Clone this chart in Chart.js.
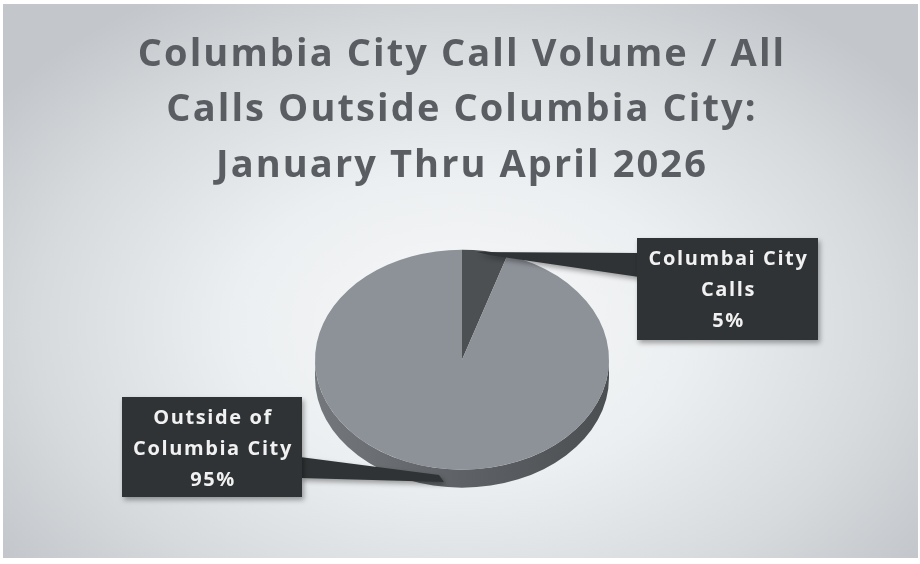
<!DOCTYPE html>
<html>
<head>
<meta charset="utf-8">
<title>Columbia City Call Volume</title>
<script src="https://cdn.jsdelivr.net/npm/chart.js@4/dist/chart.umd.min.js"></script>
<style>
  html, body { margin: 0; padding: 0; background: #ffffff; }
  #frame {
    position: absolute; left: 3px; top: 4px; width: 915px; height: 554px;
    background: radial-gradient(ellipse 62% 70% at 50% 58%, #f6f7f8 0%, #eceff1 40%, #d6dadd 75%, #c3c7cb 100%);
  }
  #wrap { position: absolute; left: 0; top: 0; width: 920px; height: 564px; }
</style>
</head>
<body>
<div id="frame"></div>
<div id="wrap"><canvas id="chart" width="920" height="564"></canvas></div>
<script>
// Call share, Jan - Apr 2026
const labels = ['Columbai City Calls', 'Outside of Columbia City'];
const labelLines = [['Columbai City', 'Calls'], ['Outside of', 'Columbia City']];
const callShare = [5, 95];
const titleLines = ['Columbia City Call Volume / All', 'Calls Outside Columbia City:', 'January Thru April 2026'];

const sliceColors = ['#4c5053', '#8d9198'];
const TILT = 0.748;   // vertical squash of the pie
const DEPTH = 18;     // thickness of the pie side
const BOX_FILL = '#2f3335';

// callout boxes: position on page + where the leader attaches
const callouts = [
  { x: 637, y: 238, w: 181, h: 102, side: 'left' },
  { x: 122, y: 397, w: 180, h: 100, side: 'right' }
];

function norm(a) {
  const t = Math.PI * 2;
  return ((a % t) + t) % t;
}

// wider tracking for the title text
const titleSpacing = {
  id: 'titleSpacing',
  beforeDraw(chart) {
    chart.ctx.letterSpacing = '2.1px';
  }
};

// Draws the front wall below the top face for every slice that faces the viewer
const pie3d = {
  id: 'pie3d',
  beforeDatasetsDraw(chart) {
    const ctx = chart.ctx;
    ctx.letterSpacing = '0px';
    const arcs = chart.getDatasetMeta(0).data;
    if (!arcs.length) return;
    const cx = arcs[0].x, cy = arcs[0].y;
    const rx = arcs[0].outerRadius, ry = rx * TILT;

    arcs.forEach((arc, i) => {
      let s = norm(arc.startAngle);
      let e = s + (arc.endAngle - arc.startAngle);
      // visible front half is 0..PI (and 2PI..3PI after wrap)
      [[0, Math.PI], [Math.PI * 2, Math.PI * 3]].forEach(([a, b]) => {
        const from = Math.max(s, a), to = Math.min(e, b);
        if (to <= from) return;
        const g = ctx.createLinearGradient(cx - rx, 0, cx + rx, 0);
        g.addColorStop(0, '#74777b');
        g.addColorStop(0.45, '#606367');
        g.addColorStop(1, '#4c4f52');
        ctx.save();
        ctx.beginPath();
        ctx.ellipse(cx, cy, rx, ry, 0, from, to);
        ctx.ellipse(cx, cy + DEPTH, rx, ry, 0, to, from, true);
        ctx.closePath();
        ctx.fillStyle = i === 0 ? '#3c3f41' : g;
        ctx.fill();
        ctx.restore();
      });
    });

    ctx.save();
    ctx.translate(cx, cy);
    ctx.scale(1, TILT);
    ctx.translate(-cx, -cy);
  },
  afterDatasetsDraw(chart) {
    chart.ctx.restore();
  }
};

// Dark label boxes with a tapered leader to each slice
const calloutBoxes = {
  id: 'calloutBoxes',
  afterDraw(chart) {
    const ctx = chart.ctx;
    const arcs = chart.getDatasetMeta(0).data;
    const total = callShare.reduce((a, b) => a + b, 0);
    arcs.forEach((arc, i) => {
      const c = callouts[i];
      const mid = (arc.startAngle + arc.endAngle) / 2;
      const rx = arc.outerRadius, ry = rx * TILT;
      const tx = arc.x + rx * Math.cos(mid);
      let ty = arc.y + ry * Math.sin(mid);
      if (Math.sin(mid) > 0) ty += DEPTH * 0.6;

      ctx.save();
      ctx.shadowColor = 'rgba(0,0,0,0.35)';
      ctx.shadowBlur = 5;
      ctx.shadowOffsetX = 2;
      ctx.shadowOffsetY = 3;
      ctx.fillStyle = BOX_FILL;
      ctx.beginPath();
      if (c.side === 'left') {
        ctx.moveTo(tx - 8, ty + 1);
        ctx.lineTo(c.x + 2, c.y + 15);
        ctx.lineTo(c.x + 2, c.y + 39);
        ctx.lineTo(tx + 4, ty + 4);
      } else {
        ctx.moveTo(c.x + c.w - 2, c.y + 60);
        ctx.lineTo(tx, ty - 4);
        ctx.lineTo(tx + 5, ty + 3);
        ctx.lineTo(c.x + c.w - 2, c.y + 81);
      }
      ctx.closePath();
      ctx.fill();
      ctx.fillRect(c.x, c.y, c.w, c.h);
      ctx.restore();

      const pct = Math.round(callShare[i] / total * 100) + '%';
      const lines = labelLines[i].concat([pct]);
      ctx.save();
      ctx.fillStyle = '#f1f1f1';
      ctx.font = 'bold 20px "Open Sans", sans-serif';
      ctx.letterSpacing = '1.6px';
      ctx.textAlign = 'center';
      ctx.textBaseline = 'middle';
      lines.forEach((t, k) => {
        ctx.fillText(t, c.x + c.w / 2 + 1, c.y + 21 + k * 31);
      });
      ctx.restore();
    });
  }
};

new Chart(document.getElementById('chart'), {
  type: 'pie',
  data: {
    labels: labels,
    datasets: [{
      data: callShare,
      backgroundColor: sliceColors,
      borderWidth: 0
    }]
  },
  options: {
    responsive: false,
    animation: false,
    radius: 147,
    layout: { padding: { top: 27, bottom: 54, left: 4, right: 0 } },
    plugins: {
      legend: { display: false },
      tooltip: { enabled: false },
      title: {
        display: true,
        text: titleLines,
        color: '#5a5e62',
        font: { family: '"Open Sans", sans-serif', size: 38, weight: 'bold', lineHeight: 1.46 },
        padding: { top: 0, bottom: 16 }
      }
    }
  },
  plugins: [titleSpacing, pie3d, calloutBoxes]
});
</script>
</body>
</html>
